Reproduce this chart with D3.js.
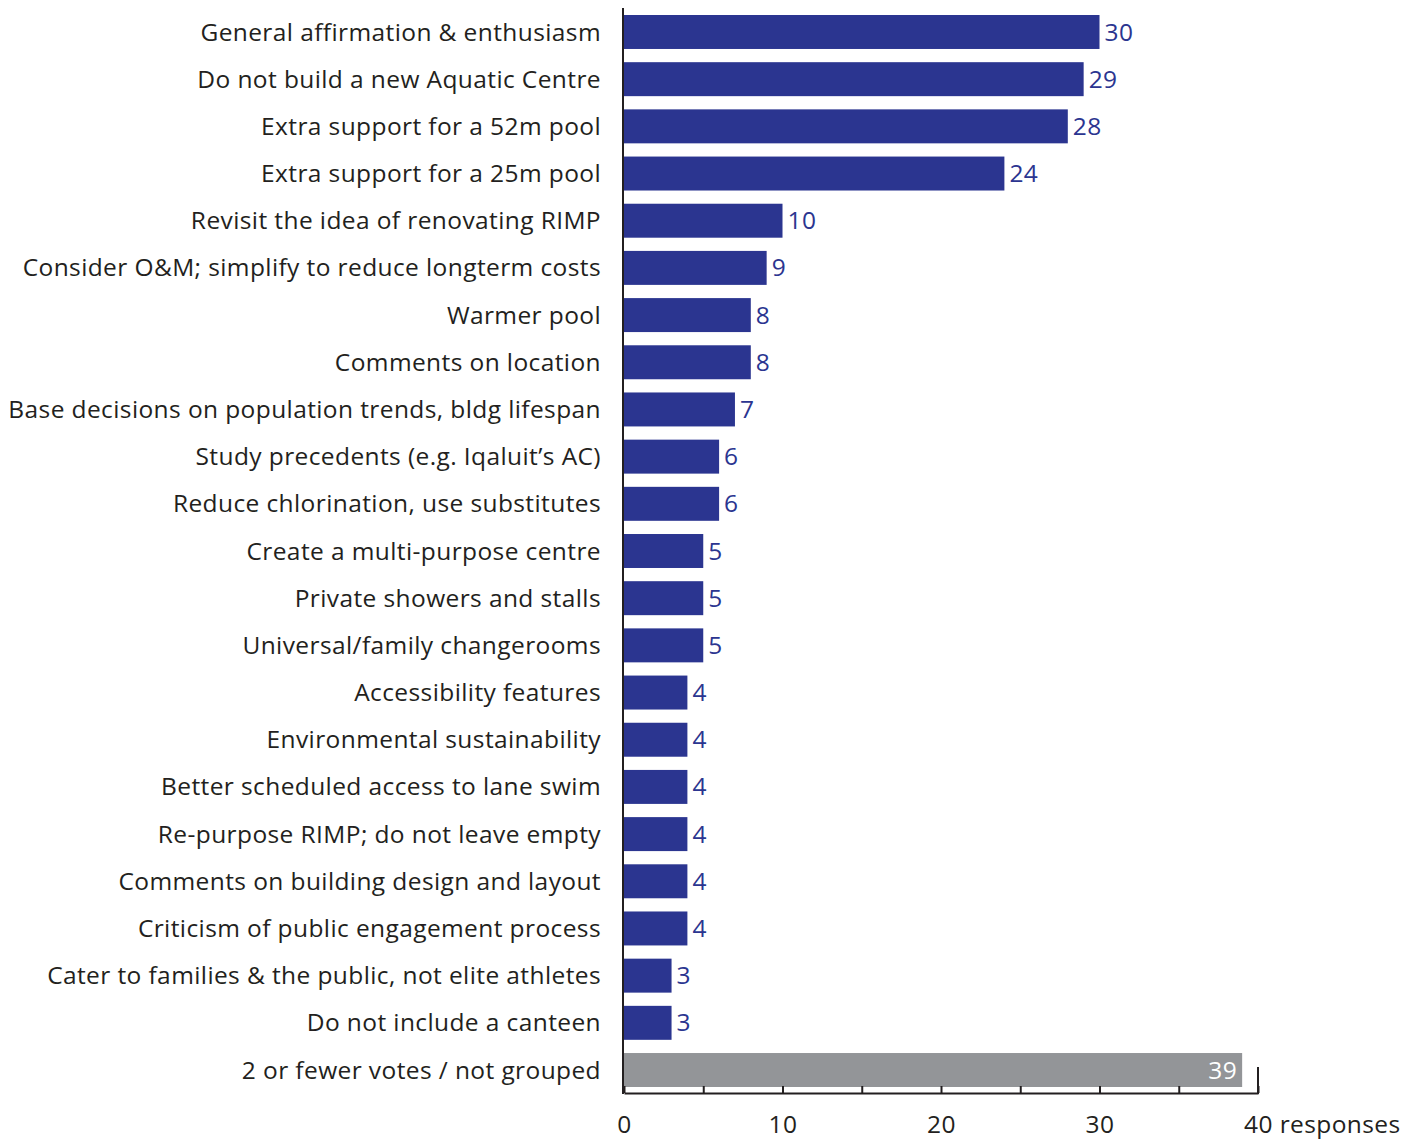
<!DOCTYPE html>
<html>
<head>
<meta charset="utf-8">
<script src="https://cdn.jsdelivr.net/npm/d3@7"></script>
<style>
  html, body { margin: 0; padding: 0; background: #fff; }
  svg { display: block; }
  text { font-family: "Open Sans", Lato, sans-serif; letter-spacing: 0.4px; }
</style>
</head>
<body>
<svg id="chart" width="1418" height="1139"></svg>
<script>
// Survey comment themes and the number of responses in each
const categories = [
  "General affirmation & enthusiasm",
  "Do not build a new Aquatic Centre",
  "Extra support for a 52m pool",
  "Extra support for a 25m pool",
  "Revisit the idea of renovating RIMP",
  "Consider O&M; simplify to reduce longterm costs",
  "Warmer pool",
  "Comments on location",
  "Base decisions on population trends, bldg lifespan",
  "Study precedents (e.g. Iqaluit’s AC)",
  "Reduce chlorination, use substitutes",
  "Create a multi-purpose centre",
  "Private showers and stalls",
  "Universal/family changerooms",
  "Accessibility features",
  "Environmental sustainability",
  "Better scheduled access to lane swim",
  "Re-purpose RIMP; do not leave empty",
  "Comments on building design and layout",
  "Criticism of public engagement process",
  "Cater to families & the public, not elite athletes",
  "Do not include a canteen",
  "2 or fewer votes / not grouped"
];
const responses = [30, 29, 28, 24, 10, 9, 8, 8, 7, 6, 6, 5, 5, 5, 4, 4, 4, 4, 4, 4, 3, 3, 39];
const ungroupedCategory = "2 or fewer votes / not grouped";
const tickValues = [0, 5, 10, 15, 20, 25, 30, 35, 40];
const labelledTicks = [0, 10, 20, 30, 40];
const axisUnit = "responses";

const data = categories.map((c, i) => ({ category: c, value: responses[i] }));

const BLUE = "#2b3590";
const GREY = "#939598";
const INK = "#231f20";
const FONT = 24.5;

const svg = d3.select("#chart");

const x = d3.scaleLinear().domain([0, 40]).range([624, 1258]);
const y = d3.scaleBand()
  .domain(categories)
  .range([15, 1087])
  .paddingInner(0.28)
  .paddingOuter(0);

const axisY = 1093;

// Bars
svg.append("g")
  .selectAll("rect")
  .data(data)
  .join("rect")
  .attr("x", x(0))
  .attr("y", d => y(d.category))
  .attr("width", d => x(d.value) - x(0))
  .attr("height", y.bandwidth())
  .attr("fill", d => d.category === ungroupedCategory ? GREY : BLUE);

// Category labels
svg.append("g")
  .selectAll("text")
  .data(data)
  .join("text")
  .attr("x", 601)
  .attr("y", d => y(d.category) + y.bandwidth() / 2)
  .attr("dy", "0.35em")
  .attr("text-anchor", "end")
  .attr("font-size", FONT)
  .attr("fill", INK)
  .text(d => d.category);

// Value labels: outside the blue bars, inside the grey bar
svg.append("g")
  .selectAll("text")
  .data(data)
  .join("text")
  .attr("x", d => d.category === ungroupedCategory ? x(d.value) - 5 : x(d.value) + 5)
  .attr("y", d => y(d.category) + y.bandwidth() / 2)
  .attr("dy", "0.35em")
  .attr("text-anchor", d => d.category === ungroupedCategory ? "end" : "start")
  .attr("font-size", FONT)
  .attr("fill", d => d.category === ungroupedCategory ? "#ffffff" : BLUE)
  .text(d => d.value);

// Horizontal axis with upward ticks
const xAxis = d3.axisBottom(x)
  .tickValues(tickValues)
  .tickSizeInner(-7)
  .tickSizeOuter(0)
  .tickFormat(d => labelledTicks.includes(d) ? d : "");

const gx = svg.append("g")
  .attr("transform", `translate(0,${axisY})`)
  .call(xAxis);
gx.select(".domain").attr("stroke", INK).attr("stroke-width", 2);
gx.selectAll(".tick line").attr("stroke", INK).attr("stroke-width", 2);
gx.selectAll(".tick text")
  .attr("y", 40)
  .attr("dy", 0)
  .attr("font-size", FONT)
  .attr("font-family", "'Open Sans', Lato, sans-serif")
  .attr("fill", INK);

// Last tick carries the unit; keep the number centred on its tick
const lastTick = gx.selectAll(".tick text").filter(d => d === 40);
const numWidth = lastTick.node().getComputedTextLength();
lastTick
  .attr("text-anchor", "start")
  .attr("x", -numWidth / 2)
  .text(`40 ${axisUnit}`);

// Tall closing tick at the end of the scale
svg.append("line")
  .attr("x1", x(40)).attr("x2", x(40))
  .attr("y1", axisY - 26).attr("y2", axisY + 1)
  .attr("stroke", INK).attr("stroke-width", 2);

// Vertical baseline at zero
svg.append("line")
  .attr("x1", x(0) - 1).attr("x2", x(0) - 1)
  .attr("y1", 8).attr("y2", axisY + 1)
  .attr("stroke", INK).attr("stroke-width", 2);
</script>
</body>
</html>
